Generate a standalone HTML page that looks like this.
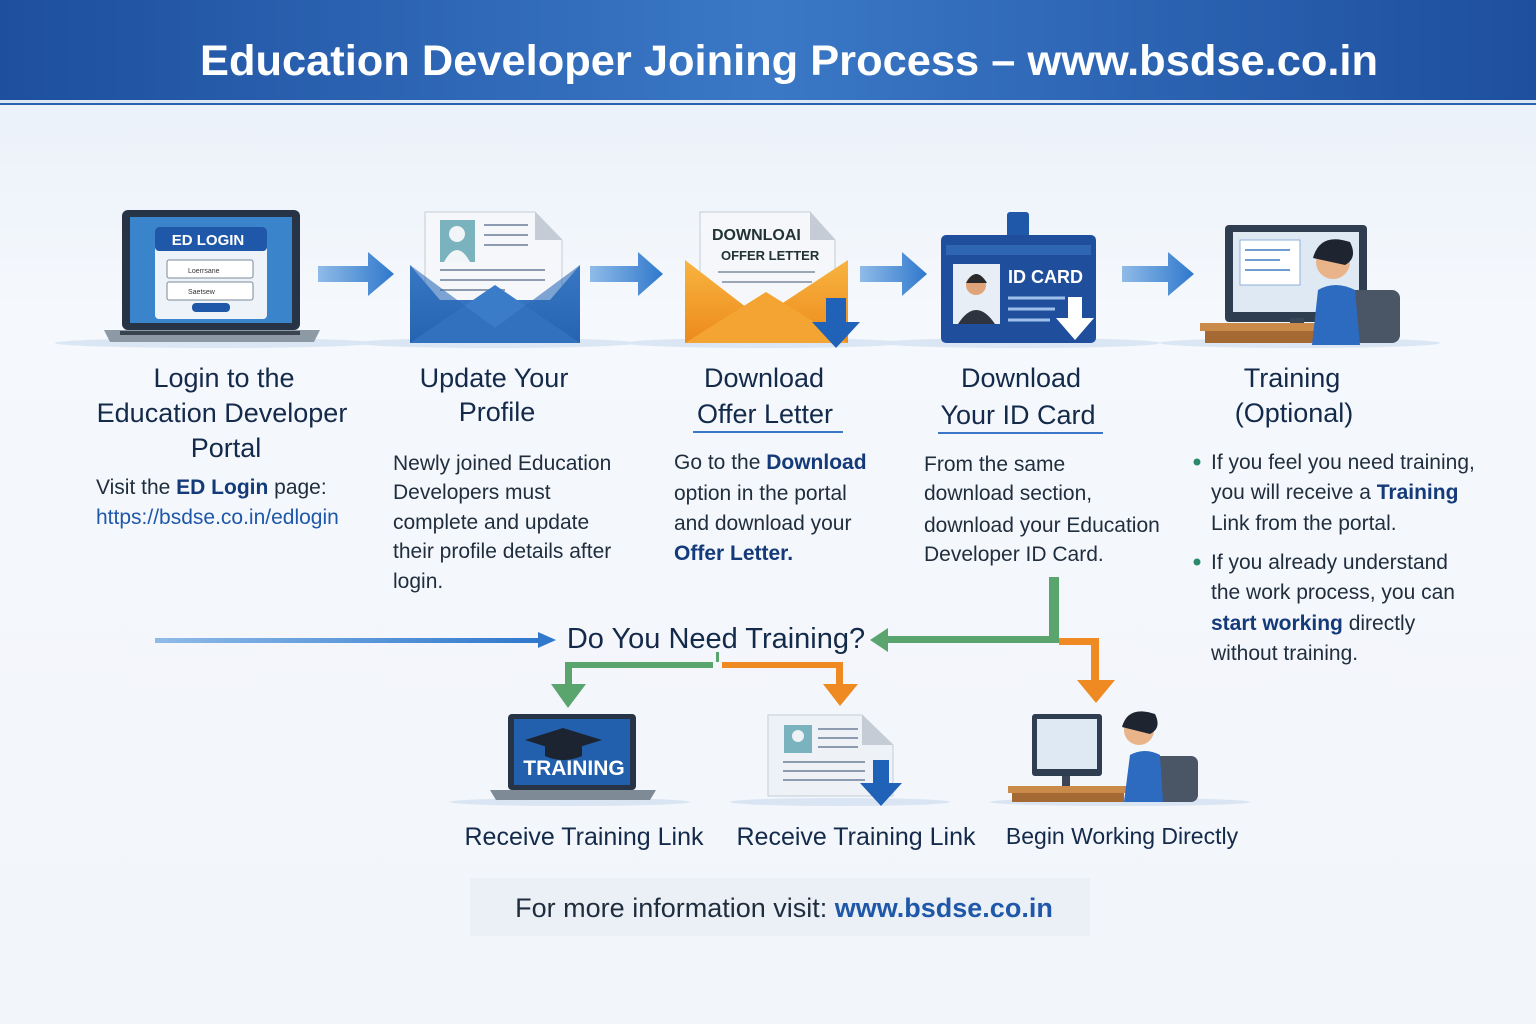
<!DOCTYPE html>
<html><head><meta charset="utf-8"><style>
html,body{margin:0;padding:0;width:1536px;height:1024px;overflow:hidden;background:#f4f7fb}
svg{display:block}
text{font-family:"Liberation Sans",sans-serif}
</style></head><body>
<svg width="1536" height="1024" viewBox="0 0 1536 1024" xmlns="http://www.w3.org/2000/svg">
<defs>
<linearGradient id="hdr" x1="0" y1="0" x2="1" y2="0"><stop offset="0" stop-color="#1d4f9e"/><stop offset="0.5" stop-color="#3a78c6"/><stop offset="1" stop-color="#1d4f9e"/></linearGradient>
<linearGradient id="bg" x1="0" y1="0" x2="0" y2="1"><stop offset="0" stop-color="#e6eef8"/><stop offset="0.3" stop-color="#f5f8fc"/><stop offset="1" stop-color="#f2f5fa"/></linearGradient>
<linearGradient id="arr" x1="0" y1="0" x2="1" y2="0"><stop offset="0" stop-color="#8fbbe8"/><stop offset="1" stop-color="#2f78cc"/></linearGradient>
<linearGradient id="blu" x1="0" y1="0" x2="0" y2="1"><stop offset="0" stop-color="#4b8ad6"/><stop offset="1" stop-color="#1f5aa8"/></linearGradient>
<linearGradient id="org" x1="0" y1="0" x2="0" y2="1"><stop offset="0" stop-color="#f8b440"/><stop offset="1" stop-color="#ec8a1c"/></linearGradient>
</defs>
<rect width="1536" height="1024" fill="url(#bg)"/>
<rect width="1536" height="100" fill="url(#hdr)"/>
<rect y="100" width="1536" height="3" fill="#dbe7f5"/>
<rect y="103" width="1536" height="2" fill="#2a62b0"/>
<text x="789" y="75" text-anchor="middle" font-size="43" font-weight="bold" fill="#fff" textLength="1178" lengthAdjust="spacingAndGlyphs">Education Developer Joining Process – www.bsdse.co.in</text>

<g fill="#c9dbee" opacity="0.6">
<ellipse cx="215" cy="343" rx="160" ry="5"/><ellipse cx="495" cy="343" rx="140" ry="5"/><ellipse cx="765" cy="343" rx="140" ry="5"/><ellipse cx="1020" cy="343" rx="140" ry="5"/><ellipse cx="1300" cy="343" rx="140" ry="5"/>
<ellipse cx="570" cy="802" rx="120" ry="4"/><ellipse cx="840" cy="802" rx="110" ry="4"/><ellipse cx="1120" cy="802" rx="130" ry="4"/>
</g>

<rect x="122" y="210" width="178" height="120" rx="6" fill="#263445"/>
<rect x="130" y="217" width="162" height="106" fill="#3a84cc"/>
<rect x="155" y="227" width="112" height="92" rx="4" fill="#eef3f9"/>
<rect x="155" y="227" width="112" height="24" rx="4" fill="#1f58a8"/>
<text x="208" y="245" text-anchor="middle" font-size="15" font-weight="bold" fill="#fff">ED LOGIN</text>
<rect x="167" y="260" width="86" height="18" rx="2" fill="#fff" stroke="#7a8898"/>
<rect x="167" y="282" width="86" height="18" rx="2" fill="#fff" stroke="#7a8898"/>
<text x="188" y="273" font-size="7" fill="#333">Loerrsane</text><text x="188" y="294" font-size="7" fill="#333">Saetsew</text>
<rect x="192" y="303" width="38" height="9" rx="4" fill="#1f58a8"/>
<path d="M104 330 H320 L314 342 H110 Z" fill="#8e99a6"/>
<rect x="120" y="331" width="180" height="4" fill="#3a4450"/>

<g fill="url(#arr)">
<path d="M318 266 H368 V252 L394 274 L368 296 V282 H318 Z"/>
<path d="M590 266 H638 V252 L663 274 L638 296 V282 H590 Z"/>
<path d="M860 266 H902 V252 L927 274 L902 296 V282 H860 Z"/>
<path d="M1122 266 H1168 V252 L1194 274 L1168 296 V282 H1122 Z"/>
</g>

<path d="M425 212 H535 L562 240 V320 H425 Z" fill="#f5f7fa" stroke="#c3ccd6"/>
<path d="M535 212 V240 H562 Z" fill="#c5ccd6"/>
<rect x="440" y="220" width="35" height="42" fill="#7ab2bd"/>
<circle cx="457" cy="234" r="8" fill="#f2f5f8"/><path d="M444 262 Q457 238 470 262Z" fill="#f2f5f8"/>
<g stroke="#8d9bb0" stroke-width="2"><line x1="484" y1="225" x2="528" y2="225"/><line x1="484" y1="235" x2="528" y2="235"/><line x1="484" y1="245" x2="528" y2="245"/><line x1="440" y1="270" x2="545" y2="270"/><line x1="440" y1="280" x2="545" y2="280"/><line x1="440" y1="290" x2="505" y2="290"/></g>
<path d="M410 265 L440 300 L550 300 L580 265 V343 H410 Z" fill="url(#blu)"/>
<path d="M410 343 L495 285 L580 343 Z" fill="#3a7cc8"/>
<path d="M410 265 L495 328 L580 265 V343 H410 Z" fill="#2b6ab8" opacity="0.6"/>

<path d="M700 212 H810 L835 240 V310 H700 Z" fill="#f5f7fa" stroke="#c3ccd6"/>
<path d="M810 212 V240 H835 Z" fill="#c5ccd6"/>
<text x="712" y="240" font-size="16" font-weight="bold" fill="#233" >DOWNLOAI</text>
<text x="721" y="260" font-size="13" font-weight="bold" fill="#233">OFFER LETTER</text>
<g stroke="#9aa6b6" stroke-width="2"><line x1="718" y1="272" x2="815" y2="272"/><line x1="722" y1="282" x2="812" y2="282"/></g>
<path d="M685 260 L760 318 L848 260 V343 H685 Z" fill="url(#org)"/>
<path d="M685 343 L766 292 L848 343 Z" fill="#f3a432"/>
<path d="M826 298 H846 V322 H860 L836 348 L812 322 H826 Z" fill="#1f62b8"/>

<rect x="1007" y="212" width="22" height="30" rx="3" fill="#1f58a8"/>
<rect x="941" y="235" width="155" height="108" rx="5" fill="#1f4f9c"/>
<rect x="946" y="245" width="145" height="10" fill="#2e66b3"/>
<rect x="953" y="264" width="47" height="60" fill="#e8eef5"/>
<circle cx="976" cy="285" r="10" fill="#e0a47a"/><path d="M966 283 Q976 265 987 283 Z" fill="#2a2a2a"/><path d="M958 324 Q976 296 995 324Z" fill="#2d3440"/>
<text x="1008" y="283" font-size="18" font-weight="bold" fill="#fff">ID CARD</text>
<g stroke="#9ec0ea" stroke-width="3"><line x1="1008" y1="298" x2="1065" y2="298"/><line x1="1008" y1="309" x2="1055" y2="309"/><line x1="1008" y1="320" x2="1050" y2="320"/></g>
<path d="M1068 297 H1082 V318 H1094 L1075 340 L1056 318 H1068 Z" fill="#fff"/>

<rect x="1225" y="225" width="142" height="97" rx="4" fill="#2f3d50"/>
<rect x="1233" y="232" width="126" height="80" fill="#dfe9f4"/>
<rect x="1240" y="240" width="60" height="45" fill="#fff" stroke="#8db0d8"/>
<g stroke="#6f9dd0" stroke-width="2"><line x1="1245" y1="250" x2="1290" y2="250"/><line x1="1245" y1="260" x2="1280" y2="260"/><line x1="1245" y1="270" x2="1290" y2="270"/></g>
<rect x="1290" y="318" width="14" height="10" fill="#3a4656"/>
<rect x="1200" y="323" width="130" height="8" fill="#c98a4a"/><rect x="1205" y="331" width="120" height="12" fill="#a56a34"/>
<rect x="1345" y="290" width="55" height="53" rx="8" fill="#4a5566"/>
<circle cx="1333" cy="262" r="17" fill="#e9b48a"/><path d="M1313 258 Q1320 232 1350 242 Q1358 258 1345 265 Z" fill="#1f2530"/>
<path d="M1312 345 L1318 290 Q1335 280 1355 290 L1360 345 Z" fill="#2d6bc0"/>

<g font-size="27" fill="#142a4a" text-anchor="middle">
<text x="224" y="387">Login to the</text><text x="222" y="422">Education Developer</text><text x="226" y="457">Portal</text>
<text x="494" y="387">Update Your</text><text x="497" y="421">Profile</text>
<text x="764" y="387">Download</text><text x="765" y="423">Offer Letter</text>
<text x="1021" y="387">Download</text><text x="1018" y="424">Your ID Card</text>
<text x="1292" y="387">Training</text><text x="1294" y="422">(Optional)</text>
</g>
<rect x="693" y="431" width="150" height="2" fill="#3a78c6"/>
<rect x="938" y="432" width="165" height="2" fill="#3a78c6"/>

<g font-size="21" fill="#1f2d3d">
<text x="96" y="494">Visit the <tspan font-weight="bold" fill="#143a7a">ED Login</tspan> page:</text>
<text x="96" y="524" fill="#1f58a8">https://bsdse.co.in/edlogin</text>
<text x="393" y="470">Newly joined Education</text><text x="393" y="499">Developers must</text><text x="393" y="529">complete and update</text><text x="393" y="558">their profile details after</text><text x="393" y="588">login.</text>
<text x="674" y="469">Go to the <tspan font-weight="bold" fill="#143a7a">Download</tspan></text><text x="674" y="500">option in the portal</text><text x="674" y="530">and download your</text><text x="674" y="560" font-weight="bold" fill="#143a7a">Offer Letter.</text>
<text x="924" y="471">From the same</text><text x="924" y="500">download section,</text><text x="924" y="532">download your Education</text><text x="924" y="561">Developer ID Card.</text>
<text x="1211" y="469">If you feel you need training,</text><text x="1211" y="499">you will receive a <tspan font-weight="bold" fill="#143a7a">Training</tspan></text><text x="1211" y="530">Link from the portal.</text>
<text x="1211" y="569">If you already understand</text><text x="1211" y="599">the work process, you can</text><text x="1211" y="630"><tspan font-weight="bold" fill="#143a7a">start working</tspan> directly</text><text x="1211" y="660">without training.</text>
</g>
<circle cx="1197" cy="462" r="3.5" fill="#2b8a6a"/><circle cx="1197" cy="562" r="3.5" fill="#2b8a6a"/>

<rect x="155" y="638" width="385" height="5" fill="url(#arr)"/>
<path d="M538 632 L556 640 L538 648 Z" fill="#2f78cc"/>
<text x="716" y="648" text-anchor="middle" font-size="29" fill="#142a4a">Do You Need Training?</text>
<g fill="#5aa56d">
<rect x="1049" y="577" width="10" height="66"/><rect x="885" y="636" width="174" height="7"/><path d="M888 628 L870 640 L888 652 Z"/>
<rect x="565" y="662" width="148" height="6"/><rect x="565" y="662" width="7" height="25"/><path d="M551 684 H586 L568 708 Z"/>
<rect x="716" y="652" width="3" height="10"/>
</g>
<g fill="#ef8a22">
<rect x="722" y="662" width="120" height="6"/><rect x="836" y="662" width="7" height="24"/><path d="M823 684 H858 L840 706 Z"/>
<rect x="1059" y="638" width="40" height="7"/><rect x="1091" y="638" width="8" height="45"/><path d="M1077 680 H1115 L1096 703 Z"/>
</g>

<rect x="508" y="714" width="128" height="76" rx="4" fill="#263445"/>
<rect x="514" y="719" width="116" height="66" fill="#2260ae"/>
<path d="M525 740 L563 728 L602 740 L563 752 Z" fill="#1b2430"/><path d="M545 745 V756 Q563 764 582 756 V745" fill="#1b2430"/>
<text x="574" y="775" text-anchor="middle" font-size="21" font-weight="bold" fill="#fff">TRAINING</text>
<path d="M490 790 H656 L650 800 H496 Z" fill="#7f8a97"/>
<path d="M768 715 H862 L893 745 V796 H768 Z" fill="#eef2f7" stroke="#c3ccd6"/>
<path d="M862 715 V745 H893 Z" fill="#c5ccd6"/>
<rect x="784" y="725" width="28" height="28" fill="#7ab2bd"/><circle cx="798" cy="736" r="6" fill="#eef2f7"/>
<g stroke="#8d9bb0" stroke-width="2"><line x1="818" y1="729" x2="858" y2="729"/><line x1="818" y1="738" x2="858" y2="738"/><line x1="818" y1="747" x2="858" y2="747"/><line x1="783" y1="762" x2="865" y2="762"/><line x1="783" y1="771" x2="865" y2="771"/><line x1="783" y1="780" x2="865" y2="780"/></g>
<path d="M873 760 H889 V783 H902 L881 806 L860 783 H873 Z" fill="#1f62b8"/>
<rect x="1032" y="714" width="70" height="62" rx="3" fill="#2f3d50"/><rect x="1037" y="719" width="60" height="50" fill="#dfe9f4"/>
<rect x="1062" y="776" width="8" height="10" fill="#3a4656"/>
<rect x="1008" y="786" width="120" height="7" fill="#c98a4a"/><rect x="1012" y="793" width="112" height="9" fill="#a56a34"/>
<rect x="1150" y="756" width="48" height="46" rx="7" fill="#4a5566"/>
<circle cx="1139" cy="730" r="15" fill="#e9b48a"/><path d="M1122 727 Q1128 705 1155 714 Q1162 728 1150 734 Z" fill="#1f2530"/>
<path d="M1124 802 L1130 755 Q1145 747 1160 755 L1163 802 Z" fill="#2d6bc0"/>

<g font-size="25" fill="#142a4a" text-anchor="middle">
<text x="584" y="845">Receive Training Link</text><text x="856" y="845">Receive Training Link</text><text x="1122" y="844" font-size="23">Begin Working Directly</text>
</g>
<rect x="470" y="878" width="620" height="58" fill="#e9eff6" opacity="0.8"/>
<text x="784" y="917" text-anchor="middle" font-size="27" fill="#1f2d3d">For more information visit: <tspan font-weight="bold" fill="#1f58a8">www.bsdse.co.in</tspan></text>
</svg>
</body></html>
